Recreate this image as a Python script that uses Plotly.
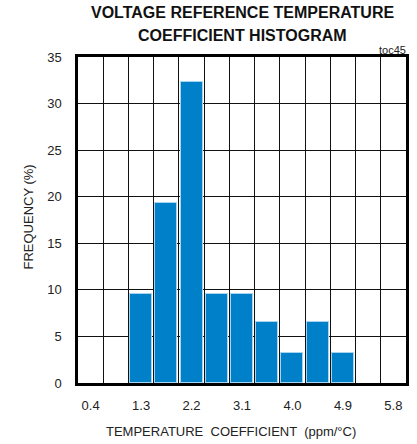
import plotly.graph_objects as go

# Data
bin_centers = [0.4, 0.85, 1.3, 1.75, 2.2, 2.65, 3.1, 3.55, 4.0, 4.45, 4.9, 5.35, 5.8]
frequency = [0, 0, 9.6, 19.3, 32.3, 9.6, 9.6, 6.5, 3.2, 6.5, 3.2, 0, 0]
x_tick_vals = [0.4, 1.3, 2.2, 3.1, 4.0, 4.9, 5.8]
x_tick_text = ["0.4", "1.3", "2.2", "3.1", "4.0", "4.9", "5.8"]
y_tick_vals = [0, 5, 10, 15, 20, 25, 30, 35]

bin_width = 0.45
font_family = "Liberation Sans, Arial, sans-serif"

edge_widths = [1 if v > 0 else 0 for v in frequency]

fig = go.Figure()
fig.add_trace(go.Bar(
    x=bin_centers,
    y=frequency,
    width=bin_width * 0.87,
    marker=dict(color="#0080C8", line=dict(color="#a8d4ee", width=edge_widths)),
    showlegend=False,
    hoverinfo="skip",
))

fig.update_layout(
    width=417,
    height=444,
    margin=dict(l=78, r=8, t=57, b=61),
    paper_bgcolor="white",
    plot_bgcolor="white",
    font=dict(family=font_family, size=13, color="#222222"),
    bargap=0,
    annotations=[
        dict(text="<b>VOLTAGE REFERENCE TEMPERATURE</b>", xref="paper", yref="paper",
             x=0.5, y=1.135, xanchor="center", yanchor="middle", showarrow=False,
             font=dict(family=font_family, size=16, color="#111111")),
        dict(text="<b>COEFFICIENT HISTOGRAM</b>", xref="paper", yref="paper",
             x=0.5, y=1.065, xanchor="center", yanchor="middle", showarrow=False,
             font=dict(family=font_family, size=16, color="#111111")),
        dict(text="toc45", xref="paper", yref="paper", x=1.0, y=1.023,
             xanchor="right", yanchor="middle", showarrow=False, xshift=2,
             font=dict(family=font_family, size=11, color="#222222")),
        dict(text="TEMPERATURE  COEFFICIENT  (ppm/°C)", xref="paper", yref="paper",
             x=0.465, y=-0.150, xanchor="center", yanchor="middle", showarrow=False,
             font=dict(family=font_family, size=13, color="#222222")),
        dict(text="FREQUENCY (%)", xref="paper", yref="paper", textangle=-90,
             x=-0.151, y=0.509, xanchor="center", yanchor="middle", showarrow=False,
             font=dict(family=font_family, size=13, color="#222222")),
    ],
)

fig.update_xaxes(
    range=[bin_centers[0] - bin_width / 2, bin_centers[-1] + bin_width / 2],
    tickmode="array",
    tickvals=x_tick_vals,
    ticktext=x_tick_text,
    ticks="outside", ticklen=9, tickcolor="rgba(0,0,0,0)",
    showgrid=False,
    minor=dict(
        tick0=bin_centers[0] + bin_width / 2, dtick=bin_width,
        showgrid=True, gridcolor="#111111", gridwidth=1, ticks="",
    ),
    showline=True, linecolor="black", linewidth=2.5, mirror=True,
    zeroline=False,
    layer="below traces",
    tickfont=dict(size=13),
)

fig.update_yaxes(
    range=[0, 35],
    tickmode="array",
    tickvals=y_tick_vals,
    ticks="outside", ticklen=11, tickcolor="rgba(0,0,0,0)",
    showgrid=True, gridcolor="#111111", gridwidth=1,
    showline=True, linecolor="black", linewidth=2.5, mirror=True,
    zeroline=False,
    tickfont=dict(size=13),
)

fig.write_html(
    "out.html",
    config={"displayModeBar": False},
    post_script="document.body.style.margin='0';document.body.style.overflow='hidden';",
)
